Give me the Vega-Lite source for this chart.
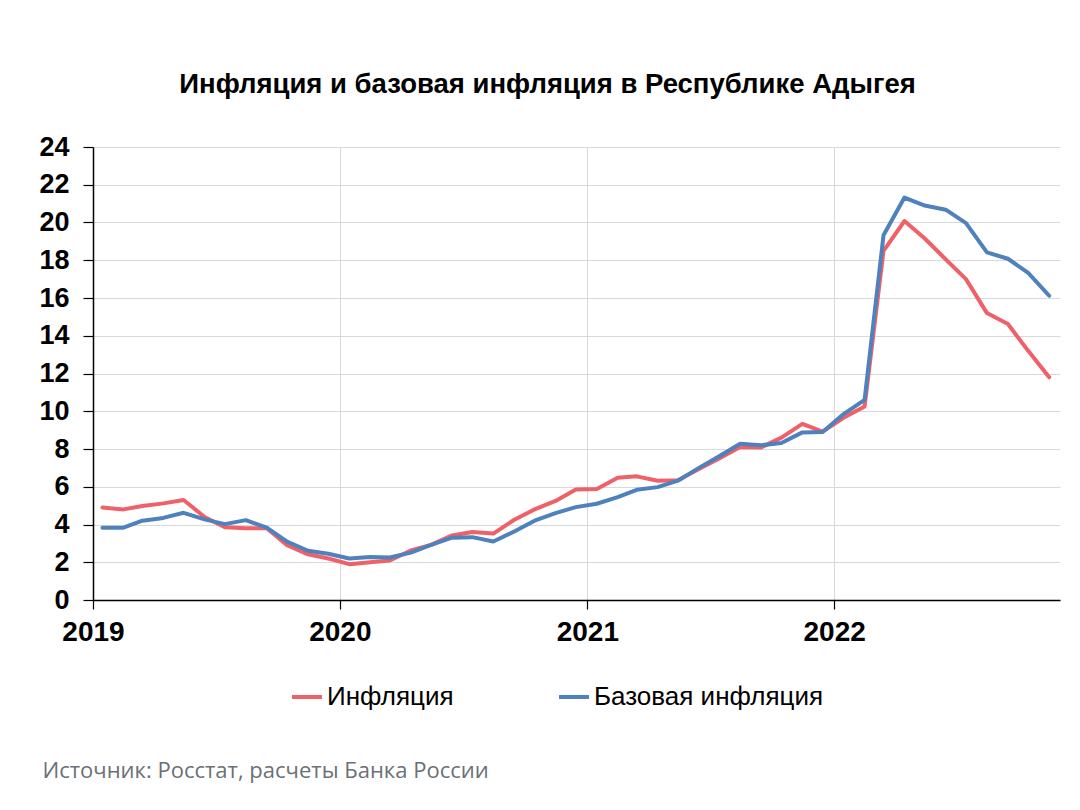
{
  "$schema": "https://vega.github.io/schema/vega-lite/v6.json",
  "width": 967,
  "height": 453,
  "autosize": "none",
  "padding": {"left": 93, "top": 147, "right": 20, "bottom": 210},
  "background": "white",
  "title": {
    "text": "Инфляция и базовая инфляция в Республике Адыгея",
    "font": "Liberation Sans",
    "fontSize": 27.5,
    "fontWeight": "bold",
    "color": "#000000",
    "anchor": "middle",
    "frame": "group",
    "dx": -29,
    "offset": 35
  },
  "data": {
    "values": [
      {"date": "2019-01-15", "Инфляция": 4.9, "Базовая инфляция": 3.83},
      {"date": "2019-02-15", "Инфляция": 4.8, "Базовая инфляция": 3.83},
      {"date": "2019-03-15", "Инфляция": 4.98, "Базовая инфляция": 4.2},
      {"date": "2019-04-15", "Инфляция": 5.12, "Базовая инфляция": 4.35},
      {"date": "2019-05-15", "Инфляция": 5.3, "Базовая инфляция": 4.62},
      {"date": "2019-06-15", "Инфляция": 4.4, "Базовая инфляция": 4.27},
      {"date": "2019-07-15", "Инфляция": 3.85, "Базовая инфляция": 4.02},
      {"date": "2019-08-15", "Инфляция": 3.8, "Базовая инфляция": 4.23},
      {"date": "2019-09-15", "Инфляция": 3.8, "Базовая инфляция": 3.83},
      {"date": "2019-10-15", "Инфляция": 2.9, "Базовая инфляция": 3.09},
      {"date": "2019-11-15", "Инфляция": 2.42, "Базовая инфляция": 2.61},
      {"date": "2019-12-15", "Инфляция": 2.2, "Базовая инфляция": 2.45},
      {"date": "2020-01-15", "Инфляция": 1.9, "Базовая инфляция": 2.2},
      {"date": "2020-02-15", "Инфляция": 2.0, "Базовая инфляция": 2.28},
      {"date": "2020-03-15", "Инфляция": 2.09, "Базовая инфляция": 2.25},
      {"date": "2020-04-15", "Инфляция": 2.62, "Базовая инфляция": 2.51},
      {"date": "2020-05-15", "Инфляция": 2.92, "Базовая инфляция": 2.92},
      {"date": "2020-06-15", "Инфляция": 3.42, "Базовая инфляция": 3.3},
      {"date": "2020-07-15", "Инфляция": 3.6, "Базовая инфляция": 3.33},
      {"date": "2020-08-15", "Инфляция": 3.52, "Базовая инфляция": 3.1},
      {"date": "2020-09-15", "Инфляция": 4.25, "Базовая инфляция": 3.63},
      {"date": "2020-10-15", "Инфляция": 4.8, "Базовая инфляция": 4.2},
      {"date": "2020-11-15", "Инфляция": 5.25, "Базовая инфляция": 4.6},
      {"date": "2020-12-15", "Инфляция": 5.85, "Базовая инфляция": 4.92},
      {"date": "2021-01-15", "Инфляция": 5.88, "Базовая инфляция": 5.1},
      {"date": "2021-02-15", "Инфляция": 6.48, "Базовая инфляция": 5.45},
      {"date": "2021-03-15", "Инфляция": 6.55, "Базовая инфляция": 5.84},
      {"date": "2021-04-15", "Инфляция": 6.32, "Базовая инфляция": 5.98},
      {"date": "2021-05-15", "Инфляция": 6.35, "Базовая инфляция": 6.32},
      {"date": "2021-06-15", "Инфляция": 6.94, "Базовая инфляция": 7.0},
      {"date": "2021-07-15", "Инфляция": 7.5, "Базовая инфляция": 7.62},
      {"date": "2021-08-15", "Инфляция": 8.1, "Базовая инфляция": 8.28},
      {"date": "2021-09-15", "Инфляция": 8.08, "Базовая инфляция": 8.2},
      {"date": "2021-10-15", "Инфляция": 8.6, "Базовая инфляция": 8.32},
      {"date": "2021-11-15", "Инфляция": 9.33, "Базовая инфляция": 8.88},
      {"date": "2021-12-15", "Инфляция": 8.92, "Базовая инфляция": 8.9},
      {"date": "2022-01-15", "Инфляция": 9.65, "Базовая инфляция": 9.85},
      {"date": "2022-02-15", "Инфляция": 10.25, "Базовая инфляция": 10.6},
      {"date": "2022-03-15", "Инфляция": 18.5, "Базовая инфляция": 19.32},
      {"date": "2022-04-15", "Инфляция": 20.08, "Базовая инфляция": 21.32},
      {"date": "2022-05-15", "Инфляция": 19.15, "Базовая инфляция": 20.9},
      {"date": "2022-06-15", "Инфляция": 18.05, "Базовая инфляция": 20.68},
      {"date": "2022-07-15", "Инфляция": 17.0, "Базовая инфляция": 19.97},
      {"date": "2022-08-15", "Инфляция": 15.2, "Базовая инфляция": 18.42},
      {"date": "2022-09-15", "Инфляция": 14.62, "Базовая инфляция": 18.08},
      {"date": "2022-10-15", "Инфляция": 13.2, "Базовая инфляция": 17.33},
      {"date": "2022-11-15", "Инфляция": 11.8, "Базовая инфляция": 16.12}
    ]
  },
  "transform": [
    {"fold": ["Инфляция", "Базовая инфляция"], "as": ["series", "value"]}
  ],
  "mark": {"type": "line", "strokeWidth": 4, "strokeJoin": "round", "strokeCap": "round"},
  "encoding": {
    "x": {
      "field": "date",
      "type": "temporal",
      "scale": {
        "type": "utc",
        "domain": [
          {"year": 2019, "month": 1, "date": 1, "utc": true},
          {"year": 2022, "month": 12, "date": 1, "utc": true}
        ]
      },
      "axis": {
        "values": [
          {"year": 2019, "month": 1, "date": 1, "utc": true},
          {"year": 2020, "month": 1, "date": 1, "utc": true},
          {"year": 2021, "month": 1, "date": 1, "utc": true},
          {"year": 2022, "month": 1, "date": 1, "utc": true}
        ],
        "format": "%Y",
        "formatType": "utc",
        "labelFont": "Liberation Sans",
        "labelFontSize": 28,
        "labelFontWeight": "bold",
        "labelColor": "#000000",
        "labelPadding": 9,
        "labelFlush": false,
        "tickSize": 9,
        "tickColor": "#000000",
        "tickWidth": 1.2,
        "domainColor": "#000000",
        "domainWidth": 1.5,
        "grid": true,
        "gridColor": "#d9d9d9",
        "gridWidth": 1,
        "title": "Источник: Росстат, расчеты Банка России",
        "titleFont": "Open Sans",
        "titleFontSize": 22,
        "titleFontWeight": "normal",
        "titleColor": "#6b7077",
        "titleAlign": "left",
        "titleBaseline": "middle",
        "titleAnchor": "start",
        "titleX": -51,
        "titleY": 170
      }
    },
    "y": {
      "field": "value",
      "type": "quantitative",
      "scale": {"domain": [0, 24], "nice": false},
      "axis": {
        "values": [0, 2, 4, 6, 8, 10, 12, 14, 16, 18, 20, 22, 24],
        "labelFont": "Liberation Sans",
        "labelFontSize": 27,
        "labelFontWeight": "bold",
        "labelColor": "#000000",
        "labelPadding": 14,
        "tickSize": 10,
        "tickColor": "#000000",
        "tickWidth": 1.2,
        "domainColor": "#000000",
        "domainWidth": 1.5,
        "gridColor": "#d9d9d9",
        "gridWidth": 1,
        "title": null
      }
    },
    "color": {
      "field": "series",
      "type": "nominal",
      "scale": {
        "domain": ["Инфляция", "Базовая инфляция"],
        "range": ["#ee6168", "#4f81bd"]
      },
      "legend": {
        "title": null,
        "orient": "none",
        "direction": "horizontal",
        "legendX": 197,
        "legendY": 533,
        "symbolType": "stroke",
        "symbolSize": 900,
        "symbolStrokeWidth": 4,
        "labelFont": "Liberation Sans",
        "labelFontSize": 26,
        "labelColor": "#000000",
        "labelOffset": 3,
        "labelLimit": 0,
        "columnPadding": 97
      }
    }
  },
  "config": {
    "view": {"stroke": null}
  }
}
